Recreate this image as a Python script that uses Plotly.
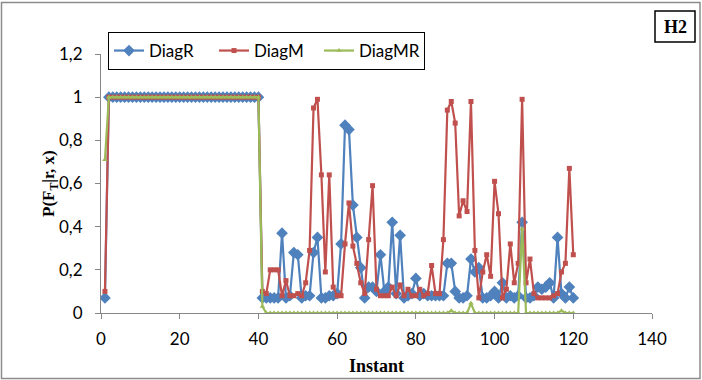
import plotly.graph_objects as go

instants = list(range(1, 121))

diag_r = [0.07,
          1, 1, 1, 1, 1, 1, 1, 1, 1, 1,
          1, 1, 1, 1, 1, 1, 1, 1, 1, 1,
          1, 1, 1, 1, 1, 1, 1, 1, 1, 1,
          1, 1, 1, 1, 1, 1, 1, 1, 1,
          0.07, 0.07, 0.07, 0.07, 0.07, 0.37, 0.07, 0.08, 0.28, 0.27,
          0.07, 0.08, 0.08, 0.28, 0.35, 0.07, 0.07, 0.08, 0.08, 0.09,
          0.32, 0.87, 0.85, 0.50, 0.35, 0.21, 0.07, 0.12, 0.12, 0.10,
          0.27, 0.10, 0.12, 0.42, 0.09, 0.36, 0.07, 0.08, 0.09, 0.16,
          0.08, 0.09, 0.08, 0.08, 0.08, 0.08, 0.08, 0.23, 0.23, 0.10,
          0.07, 0.07, 0.08, 0.25, 0.19, 0.21, 0.07, 0.07, 0.08, 0.10,
          0.07, 0.14, 0.07, 0.08, 0.07, 0.08, 0.42, 0.07, 0.07, 0.08,
          0.12, 0.11, 0.12, 0.14, 0.07, 0.35, 0.09, 0.07, 0.12, 0.07]

diag_m = [0.10,
          1, 1, 1, 1, 1, 1, 1, 1, 1, 1,
          1, 1, 1, 1, 1, 1, 1, 1, 1, 1,
          1, 1, 1, 1, 1, 1, 1, 1, 1, 1,
          1, 1, 1, 1, 1, 1, 1, 1, 1,
          0.10, 0.09, 0.20, 0.20, 0.20, 0.08, 0.15, 0.08, 0.08, 0.09,
          0.08, 0.14, 0.29, 0.95, 0.99, 0.64, 0.19, 0.64, 0.12, 0.08,
          0.08, 0.32, 0.51, 0.31, 0.23, 0.14, 0.09, 0.34, 0.59, 0.11,
          0.08, 0.08, 0.08, 0.12, 0.08, 0.13, 0.08, 0.11, 0.08, 0.08,
          0.11, 0.08, 0.09, 0.22, 0.09, 0.09, 0.34, 0.94, 0.98, 0.88,
          0.45, 0.52, 0.47, 0.98, 0.29, 0.07, 0.19, 0.27, 0.17, 0.61,
          0.46, 0.07, 0.11, 0.32, 0.14, 0.23, 0.99, 0.14, 0.25, 0.09,
          0.07, 0.07, 0.07, 0.07, 0.08, 0.09, 0.19, 0.23, 0.67, 0.27]

diag_mr = [0.71,
           1, 1, 1, 1, 1, 1, 1, 1, 1, 1,
           1, 1, 1, 1, 1, 1, 1, 1, 1, 1,
           1, 1, 1, 1, 1, 1, 1, 1, 1, 1,
           1, 1, 1, 1, 1, 1, 1, 1, 1,
           0.03, 0, 0, 0, 0, 0, 0, 0, 0, 0,
           0, 0, 0, 0, 0, 0, 0, 0, 0, 0,
           0, 0, 0, 0, 0, 0, 0, 0, 0, 0,
           0, 0, 0, 0, 0, 0, 0, 0, 0, 0,
           0, 0, 0, 0, 0, 0, 0, 0, 0.01, 0,
           0, 0, 0, 0.045, 0, 0, 0, 0, 0, 0,
           0, 0, 0, 0, 0, 0, 0.39, 0, 0, 0,
           0, 0, 0, 0, 0, 0, 0.01, 0, 0, 0]

series_names = ["DiagR", "DiagM", "DiagMR"]
y_ticks = [0, 0.2, 0.4, 0.6, 0.8, 1.0, 1.2]
x_ticks = [0, 20, 40, 60, 80, 100, 120, 140]

BLUE = "#4F81BD"
RED = "#C0504D"
GREEN = "#9BBB59"

fig = go.Figure()
fig.add_trace(go.Scatter(x=instants, y=diag_r, name=series_names[0], mode="lines+markers",
                         line=dict(color=BLUE, width=2.2),
                         marker=dict(symbol="diamond", size=9, color=BLUE)))
fig.add_trace(go.Scatter(x=instants, y=diag_m, name=series_names[1], mode="lines+markers",
                         line=dict(color=RED, width=2.2),
                         marker=dict(symbol="square", size=5, color=RED)))
fig.add_trace(go.Scatter(x=instants, y=diag_mr, name=series_names[2], mode="lines+markers",
                         line=dict(color=GREEN, width=2.2),
                         marker=dict(symbol="triangle-up", size=5, color=GREEN)))

L, R, T, B = 101, 50, 54, 67
W, H = 702, 380
pw, ph = W - L - R, H - T - B


def px(x):
    return (x - L) / pw


def py(y):
    return (H - B - y) / ph


SANS = "Lato, Liberation Sans, Arial, sans-serif"
SERIF = "Liberation Serif, Times New Roman, serif"
tick_font = dict(family=SANS, size=17, color="#000000")

fig.update_layout(
    width=W, height=H,
    margin=dict(l=L, r=R, t=T, b=B),
    paper_bgcolor="white", plot_bgcolor="white",
    separators=", ",
    showlegend=True,
    legend=dict(orientation="h", x=px(108), y=py(32), xanchor="left", yanchor="top",
                bordercolor="#000000", borderwidth=1, bgcolor="white",
                font=dict(family=SANS, size=17, color="#000000"),
                entrywidth=60, entrywidthmode="pixels"),
    xaxis=dict(range=[0, 140], tickvals=x_ticks, showgrid=False, zeroline=False,
               showline=True, linecolor="#868686", linewidth=1,
               ticks="outside", ticklen=5, tickcolor="#868686", tickfont=tick_font,
               ticklabelstandoff=6),
    yaxis=dict(range=[0, 1.2], tickvals=y_ticks, showgrid=False, zeroline=False,
               showline=True, linecolor="#868686", linewidth=1,
               ticks="outside", ticklen=5, tickcolor="#868686", tickfont=tick_font,
               ticklabelstandoff=9),
    shapes=[
        dict(type="rect", xref="paper", yref="paper", x0=px(1.5), x1=px(700), y0=py(378.5), y1=py(2.5),
             line=dict(color="#8c8c8c", width=1.5)),
        dict(type="rect", xref="paper", yref="paper", x0=px(655), x1=px(695), y0=py(42), y1=py(11),
             line=dict(color="#000000", width=1.5), fillcolor="white"),
    ],
    annotations=[
        dict(text="<b>H2</b>", xref="paper", yref="paper", x=px(675), y=py(26.5), showarrow=False,
             xanchor="center", yanchor="middle",
             font=dict(family=SERIF, size=18, color="#000000")),
        dict(text="<b>Instant</b>", xref="paper", yref="paper", x=px(376), y=py(366), showarrow=False,
             xanchor="center", yanchor="middle",
             font=dict(family=SERIF, size=18, color="#000000")),
        dict(text="<b>P(F<sub>T</sub>|r, x)</b>", xref="paper", yref="paper", x=px(50), y=py(184),
             showarrow=False, textangle=-90, xanchor="center", yanchor="middle",
             font=dict(family=SERIF, size=17, color="#000000")),
    ],
)

fig.write_html("out.html", config={"displayModeBar": False},
               post_script="document.body.style.margin='0';document.body.style.overflow='hidden';")
